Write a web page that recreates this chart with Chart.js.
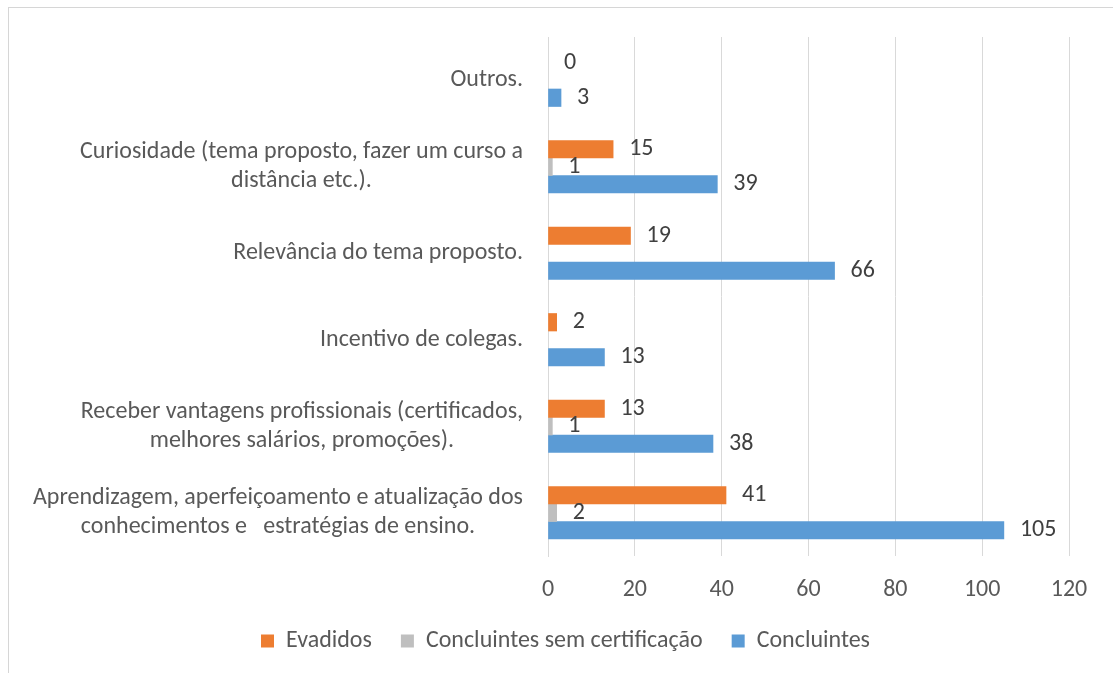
<!DOCTYPE html>
<html><head><meta charset="utf-8">
<script src="https://cdn.jsdelivr.net/npm/chart.js@4/dist/chart.umd.min.js"></script>
<style>
html,body{margin:0;padding:0;background:#fff;}
#wrap{position:relative;width:1113px;height:673px;overflow:hidden;}
#frame{position:absolute;left:8px;top:7px;width:1200px;height:800px;border-left:1px solid #d6d6d6;border-top:1px solid #d6d6d6;}
canvas{position:absolute;left:0;top:0;}
</style></head><body>
<div id="wrap"><div id="frame"></div><canvas id="c" width="1113" height="673"></canvas></div>
<script>
const categories = [
  ['Outros.'],
  ['Curiosidade (tema proposto, fazer um curso a', 'distância etc.).'],
  ['Relevância do tema proposto.'],
  ['Incentivo de colegas.'],
  ['Receber vantagens profissionais (certificados,', 'melhores salários, promoções).'],
  ['Aprendizagem, aperfeiçoamento e atualização dos', 'conhecimentos e   estratégias de ensino.']
];
const seriesNames = ['Evadidos', 'Concluintes sem certificação', 'Concluintes'];
const evadidos = [0, 15, 19, 2, 13, 41];
const semCertificacao = [null, 1, null, null, 1, 2];
const concluintes = [3, 39, 66, 13, 38, 105];
const xTicks = [0, 20, 40, 60, 80, 100, 120];
const seriesColors = ['#ED7D31', '#BFBFBF', '#5B9BD5'];

const FONT = 'Carlito, Lato, sans-serif';
const SIZE = 24;
const TEXT = '#595959';

const catLabelPlugin = {
  id: 'catLabels',
  afterDraw(chart) {
    const ys = chart.scales.y, ctx = chart.ctx;
    ctx.save();
    ctx.font = SIZE + 'px ' + FONT;
    ctx.fillStyle = TEXT;
    ctx.textAlign = 'center';
    ctx.textBaseline = 'middle';
    const right = chart.chartArea.left - 25;
    categories.forEach((lines, i) => {
      const w = Math.max(...lines.map(t => ctx.measureText(t).width));
      const cx = right - w / 2;
      const y = ys.getPixelForValue(i);
      lines.forEach((t, j) => ctx.fillText(t, cx, y + (j - (lines.length - 1) / 2) * 29));
    });
    ctx.restore();
  }
};

const valueLabelPlugin = {
  id: 'valueLabels',
  afterDatasetsDraw(chart) {
    const ctx = chart.ctx;
    ctx.save();
    ctx.font = SIZE + 'px ' + FONT;
    ctx.fillStyle = '#404040';
    ctx.textAlign = 'left';
    ctx.textBaseline = 'middle';
    chart.data.datasets.forEach((ds, di) => {
      const meta = chart.getDatasetMeta(di);
      meta.data.forEach((el, i) => {
        const v = ds.data[i];
        if (v === null || v === undefined) return;
        ctx.fillText(String(v), el.x + 16, el.y);
      });
    });
    ctx.restore();
  }
};

const legendShiftPlugin = {
  id: 'legendShift',
  afterLayout(chart) {
    const l = chart.legend;
    if (l) { l.left += 31; l.right += 31; }
  }
};

function barColor(i) {
  return c => (c.raw === 0 ? 'rgba(0,0,0,0)' : seriesColors[i]);
}

new Chart(document.getElementById('c'), {
  type: 'bar',
  data: {
    labels: categories,
    datasets: [
      { label: seriesNames[0], data: evadidos, backgroundColor: barColor(0) },
      { label: seriesNames[1], data: semCertificacao, backgroundColor: barColor(1) },
      { label: seriesNames[2], data: concluintes, backgroundColor: barColor(2) }
    ]
  },
  options: {
    indexAxis: 'y',
    responsive: false,
    animation: false,
    devicePixelRatio: 1,
    datasets: { bar: { barThickness: 17.5, borderWidth: 0 } },
    layout: { padding: { top: 37, right: 44, bottom: 10, left: 0 } },
    scales: {
      x: {
        position: 'bottom',
        min: xTicks[0],
        max: xTicks[xTicks.length - 1],
        afterBuildTicks(s) { s.ticks = xTicks.map(v => ({ value: v })); },
        grid: { color: '#d9d9d9', lineWidth: 1, drawTicks: false },
        border: { display: false },
        ticks: { padding: 20, color: TEXT, font: { family: FONT, size: SIZE } },
        afterFit(s) { s.height = 44; }
      },
      y: {
        grid: { display: false },
        border: { display: true, color: '#d9d9d9', width: 1 },
        ticks: { display: false },
        afterFit(s) { s.width = 548; }
      }
    },
    plugins: {
      legend: {
        position: 'bottom',
        labels: {
          boxWidth: 13, boxHeight: 13, padding: 29,
          color: TEXT, font: { family: FONT, size: SIZE },
          generateLabels(chart) {
            return chart.data.datasets.map((ds, i) => ({
              text: ds.label, fillStyle: seriesColors[i], strokeStyle: seriesColors[i],
              lineWidth: 0, hidden: false, datasetIndex: i, fontColor: TEXT
            }));
          }
        }
      },
      tooltip: { enabled: false }
    }
  },
  plugins: [catLabelPlugin, valueLabelPlugin, legendShiftPlugin]
});
</script>
</body></html>
